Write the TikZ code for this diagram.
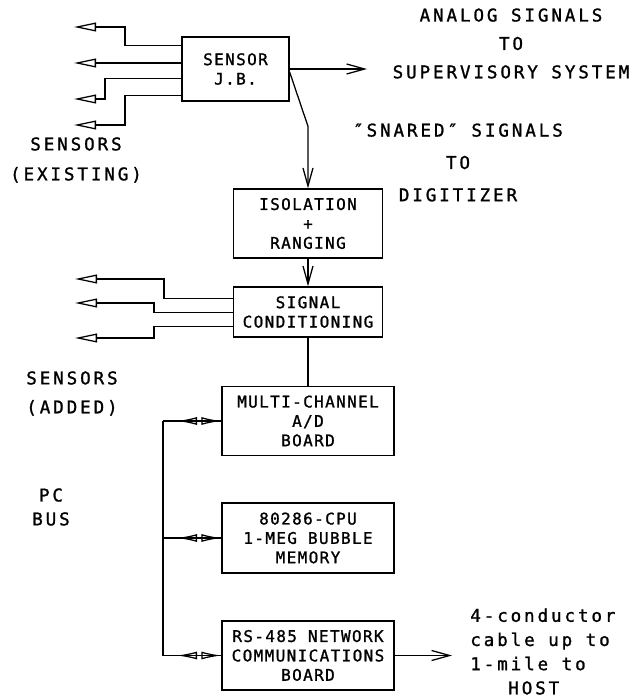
\documentclass[tikz,border=0pt]{standalone}
\usepackage{fontspec}
\usetikzlibrary{arrows.meta,calc}
\newfontfamily\boxfont[LetterSpace=8.4,FakeBold=1.2]{DejaVu Sans Mono}
\newfontfamily\labfont[LetterSpace=16.4,FakeBold=1.2]{DejaVu Sans Mono}

\tikzset{
  blk/.style={draw, line width=0.9pt, align=center, inner sep=0pt,
    font=\boxfont\fontsize{11.4}{13.8}\selectfont},
  lab/.style={align=center, inner sep=0pt,
    font=\labfont\fontsize{12.5}{#1}\selectfont},
  wire/.style={line width=0.9pt},
  sensor/.style={wire, -{Triangle[open,length=0.55cm,width=0.22cm]}},
  feed/.style={wire, -{Straight Barb[length=0.45cm,width=0.25cm]}},
  busarrow/.style={wire, shorten <=0.35cm,
    {Latex[open,length=0.5cm,width=0.2cm]}-{Latex[open,length=0.5cm,width=0.2cm]}},
}

\begin{document}
\begin{tikzpicture}[x=0.025cm,y=-0.025cm]
    \useasboundingbox (0,0) rectangle (635,698);

    \node[blk, minimum width=2.675cm, minimum height=1.6cm] (jb) at (235.5,69) {SENSOR\\J.B.};
    \node[blk, minimum width=3.725cm, minimum height=1.725cm] (iso) at (308,223.5) {ISOLATION\\+\\RANGING};
    \node[blk, minimum width=3.725cm, minimum height=1.25cm] (cond) at (308,312) {SIGNAL\\CONDITIONING};
    \node[blk, minimum width=4.3cm, minimum height=1.725cm] (mux) at (308,421) {MULTI-CHANNEL\\A/D\\BOARD};
    \node[blk, minimum width=4.3cm, minimum height=1.75cm] (cpu) at (308,538) {80286-CPU\\1-MEG BUBBLE\\MEMORY};
    \node[blk, minimum width=4.3cm, minimum height=1.725cm] (comm) at (308,655.5) {RS-485 NETWORK\\COMMUNICATIONS\\BOARD};

    \node[lab=20.2] (suplab) at (511,43.5) {ANALOG SIGNALS\\TO\\SUPERVISORY SYSTEM};
    \node[lab=23] (snarelab) at (458,162.5) {″SNARED″ SIGNALS\\TO\\DIGITIZER};
    \node[lab=21.3] (oldlab) at (76,160) {SENSORS\\(EXISTING)};
    \node[lab=20.6] (newlab) at (72,393.5) {SENSORS\\(ADDED)};
    \node[lab=17] (buslab) at (51,507) {PC\\BUS};
    \node[lab=17.2, align=left, anchor=west] (hostlab) at (470,651.5)
        {4-conductor\\cable up to\\1-mile to\\\hspace*{0.95cm}HOST};

    \coordinate (e1) at (74,27);
    \coordinate (e2) at (74,63);
    \coordinate (e3) at (74,99);
    \coordinate (e4) at (74,125);
    \coordinate (a1) at (75,279);
    \coordinate (a2) at (75,303);
    \coordinate (a3) at (75,338);
    \coordinate (sup) at (367,69);
    \coordinate (host) at (452,655.5);
    \coordinate (bus) at (163,0);

    \draw[sensor] ($(jb.north west)+(0,9)$) -| ($(e1)+(51,0)$) -- (e1);
    \draw[sensor] (jb.west |- e2) -- (e2);
    \draw[sensor] ($(jb.north west)+(0,42)$) -| ($(e3)+(31,0)$) -- (e3);
    \draw[sensor] ($(jb.north west)+(0,59)$) -| ($(e4)+(51,0)$) -- (e4);

    \draw[feed] (jb.east) -- (sup);
    \draw[feed] ($(jb.east)+(0,3)$) -- ($(iso.north)+(0,-62)$) -- (iso.north);
    \draw[feed] (iso) -- (cond);
    \draw[wire] (cond) -- (mux);

    \draw[sensor] ($(cond.north west)+(0,12)$) -| ($(a1)+(89,0)$) -- (a1);
    \draw[sensor] ($(cond.north west)+(0,26)$) -| ($(a2)+(79,0)$) -- (a2);
    \draw[sensor] ($(cond.north west)+(0,40)$) -| ($(a3)+(79,0)$) -- (a3);

    \draw[wire] (mux.west -| bus) -- (comm.west -| bus);
    \foreach \b in {mux,cpu,comm}{
        \draw[wire] (\b.west -| bus) -- (\b.west);
        \draw[busarrow] (\b.west -| bus) -- (\b.west);
    }

    \draw[feed] (comm.east) -- (host);
\end{tikzpicture}
\end{document}
